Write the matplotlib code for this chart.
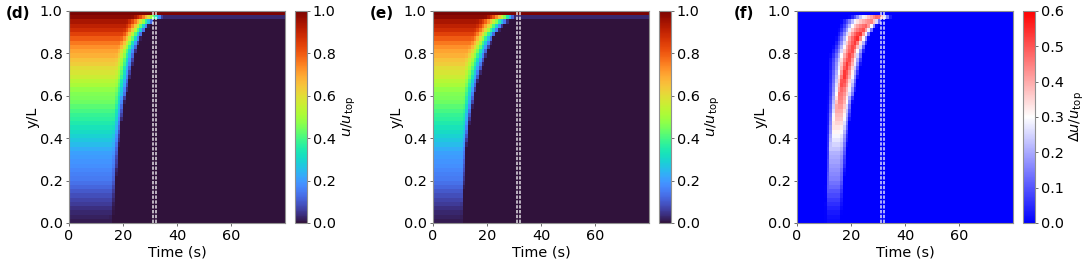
import numpy as np
import matplotlib
matplotlib.use('Agg')
import matplotlib.pyplot as plt

# rows go bottom to top, last one is the moving wall
row_u = [.015, .02, .03, .04, .055, .07, .085, .10, .12, .135,
         .15, .16, .17, .18, .19, .20, .21, .23, .25, .27,
         .29, .31, .33, .35, .37, .38, .40, .42, .44, .45,
         .46, .48, .51, .53, .56, .58, .60, .63, .65, .68,
         .70, .73, .76, .80, .84, .88, .91, .94, .98, 1.0]
# time where the profile starts dropping
start_d = [15.4, 15.4, 15.5, 15.5, 15.6, 15.6, 15.6, 15.7, 15.7, 15.7,
           15.8, 15.8, 15.8, 15.9, 15.9, 15.9, 16.0, 16.0, 16.0, 16.0,
           16.0, 16.1, 16.2, 16.2, 16.3, 16.4, 16.4, 16.5, 16.6, 16.6,
           16.7, 16.7, 16.8, 16.8, 16.9, 16.9, 17.0, 17.0, 17.0, 17.2,
           17.5, 18.0, 18.5, 19.0, 19.5, 20.0, 20.5, 21.0, 23.0, 90.0]
start_e = [10.2, 10.2, 10.3, 10.3, 10.3, 10.4, 10.4, 10.4, 10.4, 10.5,
           10.5, 10.5, 10.6, 10.6, 10.6, 10.7, 10.7, 10.7, 10.8, 10.8,
           10.8, 10.9, 10.9, 11.0, 11.0, 11.0, 11.1, 11.1, 11.2, 11.2,
           11.3, 11.3, 11.3, 11.4, 11.4, 11.4, 11.5, 11.5, 11.6, 12.0,
           12.5, 13.0, 13.5, 14.0, 14.5, 15.0, 15.5, 16.0, 19.0, 90.0]
# time where the front has passed
front_d = [16.4, 16.5, 16.6, 16.7, 16.8, 16.9, 17.0, 17.1, 17.2, 17.4,
           17.5, 17.6, 17.7, 17.9, 18.0, 18.1, 18.3, 18.4, 18.6, 18.8,
           18.9, 19.1, 19.3, 19.5, 19.7, 19.9, 20.1, 20.3, 20.6, 20.9,
           21.5, 21.8, 22.1, 22.4, 22.7, 23.0, 23.3, 23.7, 24.0, 24.4,
           24.8, 25.3, 25.9, 26.6, 27.4, 28.4, 29.6, 31.5, 35.0, 99.0]
front_e = [11.1, 11.2, 11.2, 11.3, 11.3, 11.4, 11.4, 11.5, 11.6, 11.7,
           11.8, 11.9, 12.0, 12.1, 12.2, 12.3, 12.4, 12.5, 12.6, 12.8,
           13.0, 13.2, 13.4, 13.6, 13.8, 14.0, 14.3, 14.6, 14.9, 15.2,
           15.5, 15.9, 16.3, 16.7, 17.2, 17.7, 18.2, 18.7, 19.2, 19.8,
           20.4, 21.0, 21.7, 22.4, 23.4, 24.7, 25.9, 27.8, 30.4, 99.0]
# left over value behind the front, only the row under the wall has some
tail_u = [0.0] * 48 + [0.03, 1.0]
jam_lines = [31.1, 32.2]


def build_field(start, front):
    t = np.arange(80) + 0.5
    field = np.zeros((len(row_u), len(t)))
    for i in range(len(row_u)):
        s = np.clip((t - start[i]) / (front[i] - start[i]), 0, 1)
        field[i] = np.maximum(row_u[i] * (1 - s ** 1.5), tail_u[i])
    return field


u_d = build_field(start_d, front_d)
u_e = build_field(start_e, front_e)
panels = [
    (u_d, 'turbo', 1.0, '$u/u_{\\mathrm{top}}$', '(d)', 69, 295),
    (u_e, 'turbo', 1.0, '$u/u_{\\mathrm{top}}$', '(e)', 433, 659),
    (np.abs(u_d - u_e), 'bwr', 0.6, '$\\Delta u/u_{\\mathrm{top}}$', '(f)', 797, 1023),
]

W, H = 1085, 265
plt.rcParams['font.size'] = 10.4
fig = plt.figure(figsize=(W / 100, H / 100), dpi=100)
t_edges = np.arange(81)
y_edges = np.linspace(0, 1, len(row_u) + 1)

for field, cmap, vmax, clabel, tag, x0, cx0 in panels:
    ax = fig.add_axes([x0 / W, (H - 223) / H, 216 / W, 212 / H])
    m = ax.pcolormesh(t_edges, y_edges, field, cmap=cmap, vmin=0, vmax=vmax, shading='flat', rasterized=True)
    for x in jam_lines:
        ax.axvline(x, color='white', ls='--', lw=1.2, alpha=0.8, dashes=(2, 0.9))
    ax.set_xlim(0, 80)
    ax.set_ylim(0, 1)
    ax.set_xticks([0, 20, 40, 60])
    ax.set_yticks([0, 0.2, 0.4, 0.6, 0.8, 1.0])
    ax.set_xlabel('Time (s)', labelpad=1.5)
    ax.set_ylabel('y/L', labelpad=0)
    ax.tick_params(length=2.5, width=0.6, pad=2, color='#555555')
    for sp in ax.spines.values():
        sp.set_color('#909090')
        sp.set_linewidth(0.8)
    cax = fig.add_axes([cx0 / W, (H - 223) / H, 11.5 / W, 212 / H])
    cb = fig.colorbar(m, cax=cax)
    cb.set_label(clabel, labelpad=2.5)
    cb.ax.tick_params(length=2.5, width=0.6, pad=2, color='#555555')
    cb.outline.set_edgecolor('#909090')
    cb.outline.set_linewidth(0.8)
    fig.text((x0 - 63) / W, (H - 13) / H, tag, fontweight='bold', fontsize=11, va='center')

fig.savefig('out.png', dpi=100)
